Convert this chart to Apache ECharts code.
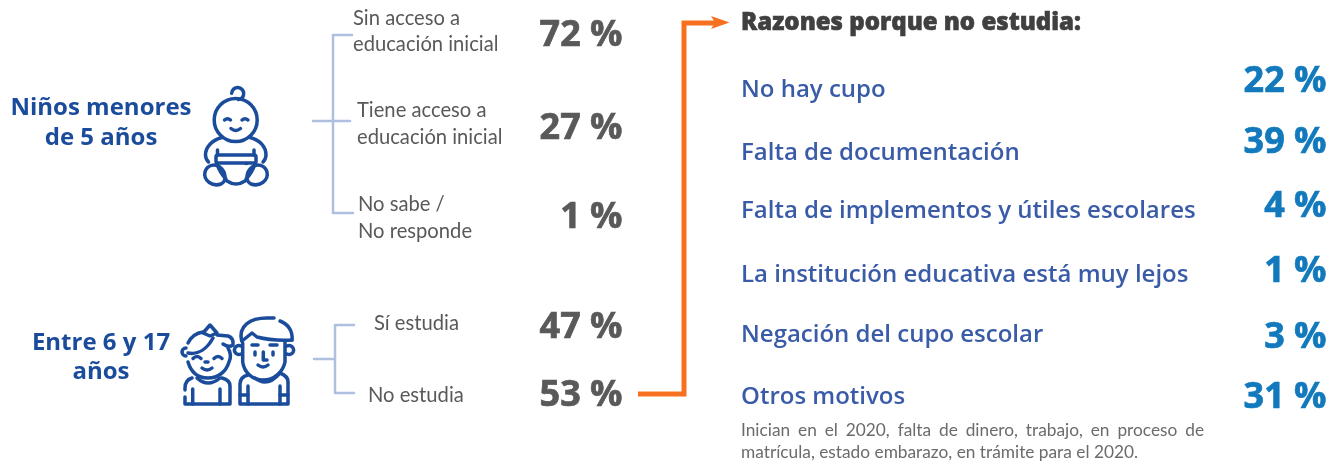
<!DOCTYPE html>
<html>
<head>
<meta charset="utf-8">
<style>html,body{margin:0;padding:0;background:#fff}#main{width:1336px;height:464px}</style>
<script src="https://cdn.jsdelivr.net/npm/echarts@6/dist/echarts.min.js"></script>
</head>
<body>
<div id="main"></div>
<script>
// datos
var grupos = [['Niños menores', 'de 5 años'], ['Entre 6 y 17', 'años']];
var opciones5 = [['Sin acceso a', 'educación inicial'], ['Tiene acceso a', 'educación inicial'], ['No sabe /', 'No responde']];
var valores5 = [72, 27, 1];
var opciones6 = ['Sí estudia', 'No estudia'];
var valores6 = [47, 53];
var tituloRazones = 'Razones porque no estudia:';
var razones = ['No hay cupo', 'Falta de documentación', 'Falta de implementos y útiles escolares', 'La institución educativa está muy lejos', 'Negación del cupo escolar', 'Otros motivos'];
var valoresRazones = [22, 39, 4, 1, 3, 31];
var nota = ['Inician en el 2020, falta de dinero, trabajo, en proceso de', 'matrícula, estado embarazo, en trámite para el 2020.'];

var AZUL = '#1a4c9b', GRIS = '#595959', CLARO = '#aebfe0', NARANJA = '#f7701f', AZUL2 = '#3a5ca8', CELESTE = '#1279bd';
var SANS = '"Open Sans"', LIGHT = 'Lato';

var chart = echarts.init(document.getElementById('main'));
var els = [];
var trazos = [];

function texto(str, x, y, font, size, weight, color, align, grosor) {
    var st = {text: str, fontFamily: font, fontSize: size, fontWeight: weight, fill: color, align: align || 'left', verticalAlign: 'middle'};
    if (grosor) {
        st.stroke = color;
        st.lineWidth = grosor;
    }
    els.push({type: 'text', x: x, y: y, style: st});
}
function linea(d, color, w) {
    trazos.push({
        type: 'path',
        shape: {pathData: d},
        style: {fill: 'none', stroke: color, lineWidth: w, lineCap: 'round', lineJoin: 'round'}
    });
}

// columna izquierda
texto(grupos[0][0], 101, 108, SANS, 24, 700, AZUL, 'center');
texto(grupos[0][1], 101, 138, SANS, 24, 700, AZUL, 'center');
texto(grupos[1][0], 101, 343, SANS, 24, 700, AZUL, 'center');
texto(grupos[1][1], 101, 372, SANS, 24, 700, AZUL, 'center');

// bebe
var bebe = [
    'M257.2 120A21.5 21.5 0 1 1 214.2 120A21.5 21.5 0 1 1 257.2 120Z',
    'M231.7 93.3A6 6 0 1 1 238.5 99.5',
    'M224.5 120Q227.5 117.5 230.5 120', 'M242 120Q245 117.5 248 120',
    'M231 128.5Q235.7 132.5 240.5 128.5',
    'M222 137.5C212 140 205.5 147 205.5 155C205.5 158 206.5 160 208.5 162',
    'M250 137.5C260 140 266 147 266 155C266 158 265 160 263 162',
    'M217.5 150V155', 'M254 150V155',
    'M218 155H254Q256 155 256 157V161Q256 163 254 163H218Q216 163 216 161V157Q216 155 218 155Z',
    'M217 164C219 170 222 175 226 179', 'M255 164C253 170 250 175 246 179',
    'M227 181Q236 187 245 181',
    'M205 172C207 165 215 163 220 167C226 172 227 181 221 184C213 187 203 181 205 172Z',
    'M267 172C265 165 257 163 252 167C246 172 245 181 251 184C259 187 269 181 267 172Z',
    'M246 163.5H246.5'
];
bebe.forEach(function (d) { linea(d, AZUL, 3.5); });

// ninos
var ninos = [
    // nina
    'M186 348A4 4 0 1 0 186 356',
    'M188 343C191 337 196 333 203 332',
    'M188 353C198 355 207 349 213 338',
    'M203 333L210 325L217 333L210 336Z',
    'M217 335L228 336Q234 338 233 345Q229 348 223 344',
    'M228 348C231 353 231 358 229 362C226 372 218 378 208 378C198 378 191 372 188 362',
    'M193 358.5Q197 354.5 201 358.5', 'M214 358.5Q218 354.5 222 358.5',
    'M205 362H208', 'M202 368Q207 372 212 368',
    'M197 378Q208 388 220 378',
    'M192 378Q185 380 185 388V390', 'M185 397V404H230V386Q230 380 222 378',
    'M192.7 389V404', 'M220 389V404',
    // nino
    'M241.7 341C238 326 250 318 267 318H274',
    'M280 321C288 324 293 331 292 340',
    'M242 341L252 333L257 337Q272 341 292 340',
    'M242.7 343V362C244 372 252 380 263 380C274 380 283 372 285 362V342',
    'M241 346A4.5 4.5 0 1 0 241 354', 'M287 346A4.5 4.5 0 1 1 287 354',
    'M255 352V355', 'M273 352V355', 'M252 345H258', 'M270 345H277',
    'M263.3 352V360H267', 'M258 365Q263 369 268 365',
    'M255 378Q267 388 280 373',
    'M248 375Q240 377 240 384V404H288V382Q288 376 280 373',
    'M248 386V404', 'M280 386V404', 'M240 395H248', 'M280 395H288'
];
ninos.forEach(function (d) { linea(d, AZUL, 3.5); });

// llaves
linea('M352 35H333V213H353', CLARO, 2.5);
linea('M313 121H350', CLARO, 2.5);
linea('M354 325H335V393H354', CLARO, 2.5);
linea('M314 359H335', CLARO, 2.5);

// opciones
var xOpc = [353, 357, 358], yOpc = [[18, 44.5], [110.5, 137.5], [204.5, 231.5]];
opciones5.forEach(function (o, i) {
    texto(o[0], xOpc[i], yOpc[i][0], LIGHT, 20.2, 400, GRIS);
    texto(o[1], xOpc[i], yOpc[i][1], LIGHT, 20.2, 400, GRIS);
});
texto(opciones6[0], 374, 323.5, LIGHT, 20.2, 400, GRIS);
texto(opciones6[1], 368, 395.5, LIGHT, 20.2, 400, GRIS);

var yVal5 = [36, 129, 218], yVal6 = [328, 396];
valores5.forEach(function (v, i) { texto(v + ' %', 622.5, yVal5[i], SANS, 36, 700, GRIS, 'right', 0.7); });
valores6.forEach(function (v, i) { texto(v + ' %', 622.5, yVal6[i], SANS, 36, 700, GRIS, 'right', 0.7); });

// flecha
trazos.push({
    type: 'path', shape: {pathData: 'M638 394H684V23H716'},
    style: {fill: 'none', stroke: NARANJA, lineWidth: 5, lineJoin: 'miter'}
});
trazos.push({
    type: 'path', shape: {pathData: 'M729.5 22.5L711 16L715 22.5L711 29Z'},
    style: {fill: NARANJA, stroke: null}
});

// razones
texto(tituloRazones, 741, 23, SANS, 24, 800, '#404040', 'left', 0.6);
var yRaz = [90, 153, 211, 275, 335, 397], yPct = [82, 143, 207, 272, 338, 398];
razones.forEach(function (r, i) { texto(r, 741, yRaz[i], SANS, 24, 600, AZUL2); });
valoresRazones.forEach(function (v, i) { texto(v + ' %', 1326.5, yPct[i], SANS, 36, 700, CELESTE, 'right', 0.7); });

// nota, primera linea justificada
var ctx = document.createElement('canvas').getContext('2d');
var tamNota = 17.3;
ctx.font = tamNota + 'px Lato';
var palabras = nota[0].split(' ');
var anchoPal = palabras.map(function (p) { return ctx.measureText(p).width; });
var hueco = (1204 - 741 - anchoPal.reduce(function (a, b) { return a + b; }, 0)) / (palabras.length - 1);
var xPal = 741;
palabras.forEach(function (p, i) {
    texto(p, xPal, 430.5, LIGHT, tamNota, 400, '#6b6b6b');
    xPal += anchoPal[i] + hueco;
});
texto(nota[1], 741, 452, LIGHT, tamNota, 400, '#6b6b6b');

chart.setOption({
    backgroundColor: '#fff',
    animation: false,
    graphic: {elements: els},
    series: [{
        type: 'custom',
        coordinateSystem: 'none',
        silent: true,
        data: [0],
        renderItem: function () {
            return {type: 'group', children: trazos};
        }
    }]
});
</script>
</body>
</html>
